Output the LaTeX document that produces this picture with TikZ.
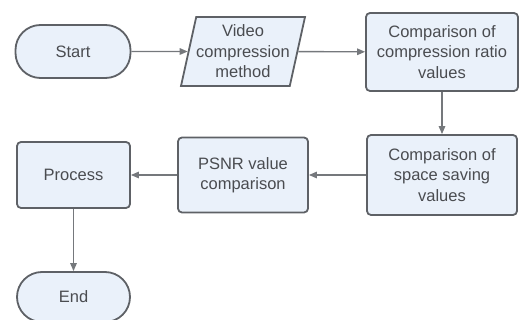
\documentclass[tikz,border=0pt]{standalone}
\usepackage{fontspec}
\setmainfont{Liberation Sans}
\usetikzlibrary{arrows.meta,shapes.geometric}
\definecolor{boxfill}{HTML}{EAF1FA}
\definecolor{boxline}{HTML}{5E6166}
\definecolor{txt}{HTML}{4A4C50}
\definecolor{arr}{HTML}{75787C}
\tikzset{
  base/.style={draw=boxline, line width=1.8pt, fill=boxfill, text=txt, align=center,
    font=\fontsize{16.5}{20.5}\selectfont, inner sep=0pt},
  procbox/.style={base, rectangle, rounded corners=4pt},
  term/.style={base, rectangle, rounded corners=25pt},
  iobox/.style={base, trapezium, trapezium left angle=74, trapezium right angle=106,
    trapezium stretches body=true},
  conn/.style={draw=arr, line width=1.4pt, -{Triangle[length=8pt,width=6.5pt]}}
}
\begin{document}
\begin{tikzpicture}[x=1pt,y=-1pt]
\useasboundingbox (0,0) rectangle (522,320);
\node[term, minimum width=115pt, minimum height=53pt] (start) at (73,51.5) {Start};
\node[iobox, minimum width=120pt, minimum height=69pt] (video) at (243,51.5) {Video\\compression\\method};
\node[procbox, minimum width=152pt, minimum height=78pt] (cr) at (442,52) {Comparison of\\compression ratio\\values};
\node[procbox, minimum width=150pt, minimum height=80pt] (ss) at (442,175) {Comparison of\\space saving\\values};
\node[procbox, minimum width=130pt, minimum height=75pt] (psnr) at (243,175) {PSNR value\\comparison};
\node[procbox, minimum width=113pt, minimum height=66pt] (proc) at (73.5,175) {Process};
\node[term, minimum width=113pt, minimum height=50pt] (end) at (73.5,297) {End};
\draw[conn] (start) -- (video);
\draw[conn] (video) -- (cr);
\draw[conn] (cr) -- (ss);
\draw[conn] (ss) -- (psnr);
\draw[conn] (psnr) -- (proc);
\draw[conn] (proc) -- (end);
\end{tikzpicture}
\end{document}
